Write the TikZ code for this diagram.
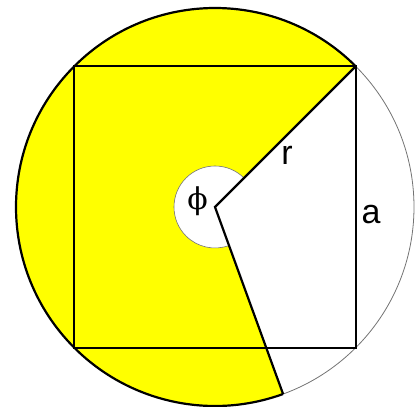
\documentclass[tikz,border=0pt]{standalone}
\usepackage{fontspec}
\setmainfont{Liberation Sans}
\newfontfamily\grkfont{DejaVu Serif}
\definecolor{sectoryellow}{RGB}{255,255,0}
\begin{document}
\begin{tikzpicture}[x=1pt,y=1pt,
  thickline/.style={line width=2.2pt,line join=miter},
  thinline/.style={line width=0.8pt,draw=black!55},
  lbl/.style={inner sep=0pt,font=\fontsize{34}{40}\selectfont}]
\useasboundingbox (-215,-200) rectangle (203,207);
\coordinate (O) at (0,0);
\coordinate (C) at (45:199);
\coordinate (P) at (290:199);
% yellow sector
\fill[sectoryellow] (O) -- (C) arc[start angle=45,end angle=290,radius=199] -- cycle;
% full thin circle
\draw[thinline] (O) circle[radius=199];
% thick arc of sector
\draw[thickline] (C) arc[start angle=45,end angle=290,radius=199];
% small white angle sector
\fill[white] (O) -- (45:41) arc[start angle=45,end angle=290,radius=41] -- cycle;
\draw[thinline,line width=0.6pt] (45:41) arc[start angle=45,end angle=290,radius=41];
% square
\draw[thickline] (-140.7,-140.7) rectangle (140.7,140.7);
% radii
\draw[thickline] (C) -- (O) -- (P);
% labels
\node[lbl] (r) at (72,52) {r};
\node[lbl] (a) at (156,-7.5) {a};
\node[lbl,font=\grkfont\fontsize{30}{36}\selectfont] (phi) at (-17.5,6) {ϕ};
\end{tikzpicture}
\end{document}
